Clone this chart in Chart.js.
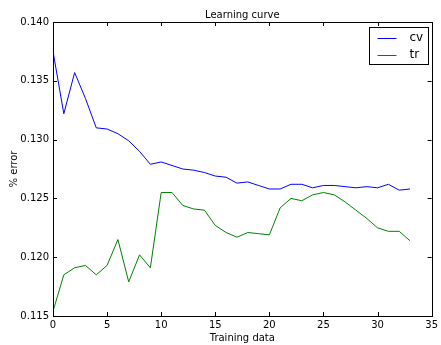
<!DOCTYPE html>
<html>
<head>
<meta charset="utf-8">
<script src="https://cdn.jsdelivr.net/npm/chart.js@4"></script>
<style>
  html, body { margin: 0; padding: 0; background: #fff; }
  #wrap { width: 441px; height: 345px; }
</style>
</head>
<body>
<div id="wrap"><canvas id="myChart" width="441" height="345"></canvas></div>
<script>
const trainingSize = [0,1,2,3,4,5,6,7,8,9,10,11,12,13,14,15,16,17,18,19,20,21,22,23,24,25,26,27,28,29,30,31,32,33]
const cvError = [0.1375,0.1322,0.1357,0.1335,0.1310,0.1309,0.1305,0.1299,0.1290,0.1279,0.1281,0.1278,0.1275,0.1274,0.1272,0.1269,0.1268,0.1263,0.1264,0.1261,0.1258,0.1258,0.1262,0.1262,0.1259,0.1261,0.1261,0.1260,0.1259,0.1260,0.1259,0.1262,0.1257,0.1258]
const trError = [0.1154,0.1185,0.1191,0.1193,0.1185,0.1193,0.1215,0.1179,0.1202,0.1191,0.1255,0.1255,0.1244,0.1241,0.1240,0.1227,0.1221,0.1217,0.1221,0.1220,0.1219,0.1242,0.1250,0.1248,0.1253,0.1255,0.1253,0.1247,0.1240,0.1233,0.1225,0.1222,0.1222,0.1214]
const seriesNames = ['cv', 'tr']
const titleText = 'Learning curve'
const xTitle = 'Training data'
const yTitle = '% error'

const FONT = 'DejaVu Sans'

function toPoints(xs, ys) {
    return xs.map((x, i) => ({x: x, y: ys[i]}))
}

// frame, inward ticks, title and legend, matplotlib style
const mplLook = {
    id: 'mplLook',
    afterDraw(chart) {
        const ctx = chart.ctx
        const a = chart.chartArea
        const xs = chart.scales.x
        const ys = chart.scales.y
        ctx.save()
        ctx.strokeStyle = '#000'
        ctx.lineWidth = 1
        ctx.strokeRect(Math.round(a.left) + 0.5, Math.round(a.top) + 0.5, Math.round(a.right - a.left), Math.round(a.bottom - a.top))
        const tl = 4
        ctx.beginPath()
        xs.ticks.forEach(t => {
            const px = Math.round(xs.getPixelForValue(t.value)) + 0.5
            ctx.moveTo(px, a.bottom); ctx.lineTo(px, a.bottom - tl)
            ctx.moveTo(px, a.top); ctx.lineTo(px, a.top + tl)
        })
        ys.ticks.forEach(t => {
            const py = Math.round(ys.getPixelForValue(t.value)) + 0.5
            ctx.moveTo(a.left, py); ctx.lineTo(a.left + tl, py)
            ctx.moveTo(a.right, py); ctx.lineTo(a.right - tl, py)
        })
        ctx.stroke()

        // title
        ctx.fillStyle = '#000'
        ctx.font = '10px "' + FONT + '"'
        ctx.textAlign = 'center'
        ctx.textBaseline = 'alphabetic'
        ctx.fillText(titleText, (a.left + a.right) / 2, a.top - 4)

        // legend box
        const bx = 369.5, by = 27.5, bw = 59, bh = 37
        ctx.fillStyle = '#fff'
        ctx.fillRect(bx, by, bw, bh)
        ctx.strokeStyle = '#000'
        ctx.strokeRect(bx, by, bw, bh)
        ctx.font = '12px "' + FONT + '"'
        ctx.textAlign = 'left'
        ctx.textBaseline = 'middle'
        chart.data.datasets.forEach((ds, i) => {
            const yy = by + 10 + i * 17
            ctx.strokeStyle = ds.borderColor
            ctx.beginPath()
            ctx.moveTo(bx + 8, Math.round(yy) + 0.5)
            ctx.lineTo(bx + 27, Math.round(yy) + 0.5)
            ctx.stroke()
            ctx.fillStyle = '#000'
            ctx.fillText(ds.label, bx + 40, yy)
        })
        ctx.restore()
    }
}

const ctx = document.getElementById('myChart')
const chart = new Chart(ctx, {
    type: 'line',
    data: {
        datasets: [{
            label: seriesNames[0],
            data: toPoints(trainingSize, cvError),
            borderColor: 'rgb(0, 0, 255)',
            borderWidth: 1,
            pointRadius: 0,
            tension: 0,
            fill: false
        }, {
            label: seriesNames[1],
            data: toPoints(trainingSize, trError),
            borderColor: 'rgb(0, 128, 0)',
            borderWidth: 1,
            pointRadius: 0,
            tension: 0,
            fill: false
        }]
    },
    options: {
        responsive: false,
        animation: false,
        devicePixelRatio: 1,
        layout: {padding: {left: 0, right: 8, top: 22, bottom: 0}},
        plugins: {
            legend: {display: false},
            tooltip: {enabled: false}
        },
        scales: {
            x: {
                type: 'linear',
                min: 0, max: 35,
                grid: {display: false, drawTicks: false},
                border: {display: false},
                ticks: {stepSize: 5, padding: 3, color: '#000', font: {family: FONT, size: 10}, maxRotation: 0},
                title: {display: true, text: xTitle, color: '#000', font: {family: FONT, size: 10}, padding: {top: 0, bottom: 1}},
                afterFit(scale) { scale.height = 29 }
            },
            y: {
                min: 0.115, max: 0.140,
                grid: {display: false, drawTicks: false},
                border: {display: false},
                ticks: {stepSize: 0.005, padding: 4, color: '#000', font: {family: FONT, size: 10},
                    callback: v => v.toFixed(3)},
                title: {display: true, text: yTitle, color: '#000', font: {family: FONT, size: 10}, padding: {top: 8, bottom: 0}},
                afterFit(scale) { scale.width = 53 }
            }
        }
    },
    plugins: [mplLook]
})
</script>
</body>
</html>
